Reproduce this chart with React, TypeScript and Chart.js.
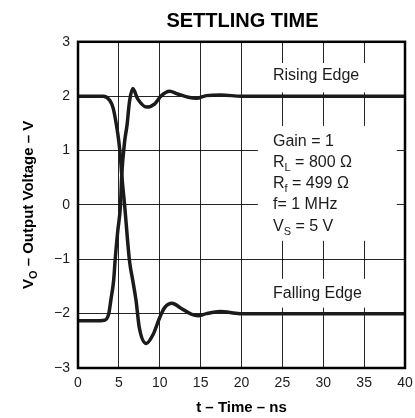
import { useEffect, useRef } from "react";
import { Chart, registerables } from "chart.js";

Chart.register(...registerables);

// ---- data ----
const chartTitle = "SETTLING TIME";
const xAxisTitle = "t – Time – ns";
const yAxisTitleMain = "V";
const yAxisTitleSub = "O";
const yAxisTitleRest = " – Output Voltage – V";

const xTickValues = [0, 5, 10, 15, 20, 25, 30, 35, 40];
const yTickValues = [-3, -2, -1, 0, 1, 2, 3];

const risingTime = [0, 2, 3.26, 3.75, 4.07, 4.36, 4.55, 4.85, 5.2, 5.35, 5.7, 6.0, 6.3, 6.7, 7.3, 8.4, 9.4, 10.2, 11.2, 12.2, 13.5, 14.5, 15.7, 17.5, 20, 25, 30, 35, 40];
const risingVolts = [-2.13, -2.13, -2.12, -2.01, -1.7, -1.39, -1.0, -0.5, 0.0, 0.55, 1.16, 1.47, 1.9, 2.14, 1.95, 1.8, 1.86, 2.01, 2.09, 2.04, 1.98, 1.96, 2.01, 2.02, 2.0, 2.0, 2.0, 2.0, 2.0];

const fallingTime = [0, 2, 3.1, 3.9, 4.3, 4.7, 5.0, 5.2, 5.35, 5.7, 6.3, 6.7, 7.1, 7.5, 8.35, 9.2, 10.0, 10.6, 11.5, 12.6, 13.85, 14.7, 15.7, 17.4, 19.8, 25, 30, 35, 40];
const fallingVolts = [2.0, 2.0, 2.0, 1.92, 1.78, 1.47, 1.16, 0.86, 0.55, 0.0, -1.03, -1.39, -1.76, -2.26, -2.55, -2.38, -2.07, -1.89, -1.81, -1.9, -2.01, -2.04, -2.0, -1.96, -2.0, -2.0, -2.0, -2.0, -2.0];

const risingLabel = "Rising Edge";
const fallingLabel = "Falling Edge";
const conditionBase = ["Gain = 1", "R", "R", "f= 1 MHz", "V"];
const conditionSub = ["", "L", "f", "", "S"];
const conditionRest = ["", " = 800 Ω", " = 499 Ω", "", " = 5 V"];

// ---- styles ----
const FONT = "'Liberation Sans', Arial, Helvetica, sans-serif";
const INK = "#1b1b1b";

const fmtTick = (v: number) => (v < 0 ? "−" + Math.abs(v) : String(v));

const decorPlugin = {
  id: "decor",
  beforeDatasetsDraw(chart: any) {
    const { ctx, scales } = chart;
    const xs = scales.x;
    const ys = scales.y;
    const x0 = xs.getPixelForValue(22.0);
    const x1 = xs.getPixelForValue(39.0);
    const boxes = [
      [2.61, 2.07],
      [1.45, -0.66],
      [-1.36, -1.89],
    ];
    ctx.save();
    ctx.fillStyle = "#ffffff";
    boxes.forEach(([a, b]) => {
      const y0 = ys.getPixelForValue(a);
      const y1 = ys.getPixelForValue(b);
      ctx.fillRect(x0, y0, x1 - x0, y1 - y0);
    });
    ctx.restore();
  },
  afterDatasetsDraw(chart: any) {
    const { ctx, chartArea, scales } = chart;
    const xs = scales.x;
    const ys = scales.y;
    ctx.save();
    // border
    ctx.strokeStyle = "#000";
    ctx.lineWidth = 2.5;
    ctx.strokeRect(chartArea.left, chartArea.top, chartArea.right - chartArea.left, chartArea.bottom - chartArea.top);

    // chart title centred over the plot area
    ctx.fillStyle = "#000";
    ctx.font = `bold 20px ${FONT}`;
    ctx.textAlign = "center";
    ctx.textBaseline = "alphabetic";
    ctx.fillText(chartTitle, (chartArea.left + chartArea.right) / 2 + 1, 27);

    // annotation texts
    const tx = xs.getPixelForValue(23.85);
    const mainFont = `16px ${FONT}`;
    const subFont = `11px ${FONT}`;
    ctx.fillStyle = INK;
    ctx.textAlign = "left";
    ctx.font = mainFont;
    ctx.fillText(risingLabel, tx, ys.getPixelForValue(2.39) + 5.5);
    ctx.fillText(fallingLabel, tx, ys.getPixelForValue(-1.62) + 5.5);
    const firstY = ys.getPixelForValue(1.19);
    conditionBase.forEach((base, i) => {
      const by = firstY + i * 21.2 + 5.5;
      let x = tx;
      ctx.font = mainFont;
      ctx.fillText(base, x, by);
      x += ctx.measureText(base).width;
      if (conditionSub[i]) {
        ctx.font = subFont;
        ctx.fillText(conditionSub[i], x, by + 4);
        x += ctx.measureText(conditionSub[i]).width;
      }
      if (conditionRest[i]) {
        ctx.font = mainFont;
        ctx.fillText(conditionRest[i], x, by);
      }
    });

    // y axis title with subscript
    const cx = 28;
    const cy = (chartArea.top + chartArea.bottom) / 2;
    const tf = `bold 15px ${FONT}`;
    const sf = `bold 11px ${FONT}`;
    ctx.font = tf;
    const w1 = ctx.measureText(yAxisTitleMain).width;
    const w3 = ctx.measureText(yAxisTitleRest).width;
    ctx.font = sf;
    const w2 = ctx.measureText(yAxisTitleSub).width;
    const total = w1 + w2 + w3;
    ctx.translate(cx, cy);
    ctx.rotate(-Math.PI / 2);
    ctx.fillStyle = "#000";
    let lx = -total / 2;
    ctx.font = tf;
    ctx.fillText(yAxisTitleMain, lx, 5);
    lx += w1;
    ctx.font = sf;
    ctx.fillText(yAxisTitleSub, lx, 9);
    lx += w2;
    ctx.font = tf;
    ctx.fillText(yAxisTitleRest, lx, 5);
    ctx.restore();
  },
};

export default function App() {
  const ref = useRef<HTMLCanvasElement | null>(null);
  useEffect(() => {
    if (!ref.current) return;
    Chart.defaults.font.family = FONT;
    const chart = new Chart(ref.current, {
      type: "line",
      data: {
        datasets: [
          {
            label: "Rising Edge",
            data: risingTime.map((t, i) => ({ x: t, y: risingVolts[i] })),
            borderColor: INK,
            borderWidth: 3.5,
            pointRadius: 0,
            cubicInterpolationMode: "monotone",
            fill: false,
          },
          {
            label: "Falling Edge",
            data: fallingTime.map((t, i) => ({ x: t, y: fallingVolts[i] })),
            borderColor: INK,
            borderWidth: 3.5,
            pointRadius: 0,
            cubicInterpolationMode: "monotone",
            fill: false,
          },
        ],
      },
      options: {
        responsive: false,
        animation: false,
        devicePixelRatio: 1,
        layout: { padding: { left: 0, right: 10, top: 41.8, bottom: 0 } },
        plugins: {
          legend: { display: false },
          tooltip: { enabled: false },
          title: { display: false },
        },
        scales: {
          x: {
            type: "linear",
            min: 0,
            max: 40,
            afterBuildTicks: (s: any) => {
              s.ticks = xTickValues.map((v) => ({ value: v }));
            },
            afterFit: (s: any) => {
              s.height = 50;
              s.paddingLeft = 0;
              s.paddingRight = 0;
            },
            ticks: {
              color: INK,
              font: { size: 14, family: FONT },
              padding: 7,
              maxRotation: 0,
              autoSkip: false,
              callback: (v: any) => fmtTick(Number(v)),
            },
            grid: { color: "rgba(0,0,0,0.85)", lineWidth: 1, drawTicks: false },
            border: { display: false },
            title: {
              display: true,
              text: xAxisTitle,
              color: "#000",
              font: { size: 15, weight: "bold", family: FONT },
              padding: { top: 0, bottom: 1 },
            },
          },
          y: {
            type: "linear",
            min: -3,
            max: 3,
            afterBuildTicks: (s: any) => {
              s.ticks = yTickValues.map((v) => ({ value: v }));
            },
            afterFit: (s: any) => {
              s.width = 78;
              s.paddingTop = 0;
              s.paddingBottom = 0;
            },
            ticks: {
              color: INK,
              font: { size: 14, family: FONT },
              padding: 8,
              autoSkip: false,
              callback: (v: any) => fmtTick(Number(v)),
            },
            grid: { color: "rgba(0,0,0,0.85)", lineWidth: 1, drawTicks: false },
            border: { display: false },
          },
        },
      },
      plugins: [decorPlugin],
    } as any);
    return () => chart.destroy();
  }, []);
  return (
    <div style={{ position: "absolute", left: 0, top: 0, width: 415, height: 418, background: "#fff" }}>
      <canvas ref={ref} width={415} height={418} style={{ display: "block" }} />
    </div>
  );
}
